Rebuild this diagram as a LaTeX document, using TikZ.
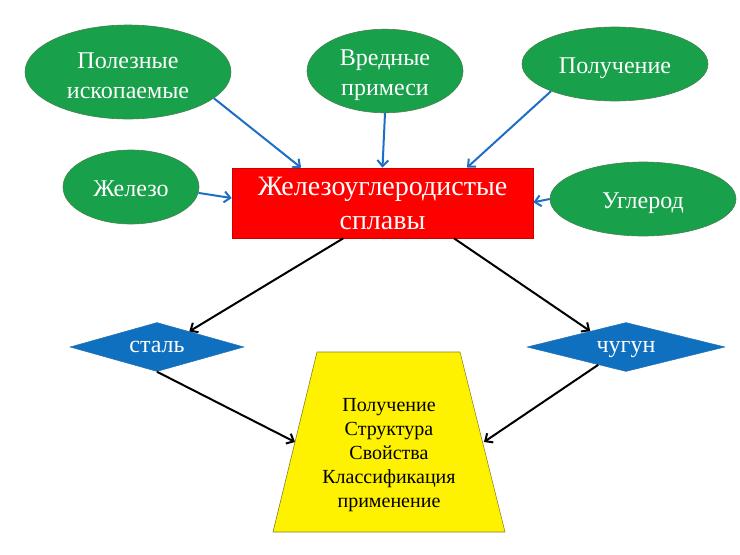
\documentclass[tikz,border=0pt]{standalone}
\usepackage{fontspec}
\setmainfont{Liberation Serif}
\usetikzlibrary{shapes.geometric,arrows.meta,calc}
\definecolor{ellgreen}{RGB}{24,160,74}
\definecolor{ellborder}{RGB}{70,130,80}
\definecolor{diablue}{RGB}{16,112,192}
\definecolor{arrblue}{RGB}{30,110,200}
\definecolor{trapedge}{RGB}{130,130,40}
\newcommand{\tallstrut}{\rule{0pt}{24pt}}
\tikzset{
  ell/.style={ellipse, fill=ellgreen, draw=ellborder, line width=0.6pt, inner sep=0pt,
    text=white, align=center, font=\fontsize{24}{30}\selectfont},
  ellone/.style={ell, text height=19pt, text depth=0pt},
  dia/.style={diamond, fill=diablue, draw=diablue!80!gray, line width=0.5pt, inner sep=0pt, aspect=3.5,
    text=white, font=\fontsize{24}{28}\selectfont, minimum height=49pt, text height=10pt, text depth=0pt},
  bluearr/.style={draw=arrblue, line width=2pt, -{Straight Barb[length=6pt,width=11pt]}},
  blackarr/.style={draw=black, line width=2pt, -{Straight Barb[length=6pt,width=11pt]}},
}
\begin{document}
\begin{tikzpicture}[x=1pt,y=-1pt]
\useasboundingbox (0,0) rectangle (740,555);
\node[ell, minimum width=206pt, minimum height=94pt] (pi) at (128,72) {\tallstrut Полезные\\ископаемые};
\node[ell, minimum width=156pt, minimum height=76pt] (vp) at (385,71) {\tallstrut Вредные\\примеси};
\node[ellone, minimum width=186pt, minimum height=74pt] (pol) at (615,64) {Получение};
\node[ellone, minimum width=136pt, minimum height=74pt] (fe) at (131,187) {Железо};
\node[ellone, minimum width=186pt, minimum height=74pt] (c) at (643,199) {Углерод};
\node[rectangle, fill=red, draw=red!80!black, line width=0.6pt, minimum width=301pt, minimum height=70pt,
  inner sep=0pt, text=white, align=center, font=\fontsize{28}{34}\selectfont] (rect) at (382.5,203) {Железоуглеродистые\\сплавы};
\node[dia, minimum width=174pt] (st) at (157,347) {сталь};
\node[dia, minimum width=198pt] (cu) at (626,347) {чугун};
\fill[yellow, draw=trapedge, line width=0.6pt] (317,352) -- (460,352) -- (505,532) -- (273,532) -- cycle;
\node[align=center, font=\fontsize{20}{24}\selectfont, inner sep=0pt] (tr) at (389,455)
  {Получение\\Структура\\Свойства\\Классификация\\применение};
\coordinate (trL) at (295,442);
\coordinate (trR) at (484,442);
\draw[bluearr] (pi.-17) -- ($(rect.north west)!0.23!(rect.north east)$);
\draw[bluearr] (vp.south) -- ($(rect.north west)!0.50!(rect.north east)$);
\draw[bluearr] (pol.203) -- ($(rect.north west)!0.78!(rect.north east)$);
\draw[bluearr] (fe.-5) -- ($(rect.north west)!0.43!(rect.south west)$);
\draw[bluearr] (c.west) -- ($(rect.north east)!0.49!(rect.south east)$);
\draw[blackarr] ($(rect.south west)!0.37!(rect.south east)$) -- ($(st.north)!0.37!(st.east)$);
\draw[blackarr] ($(rect.south west)!0.737!(rect.south east)$) -- ($(cu.north)!0.36!(cu.west)$);
\draw[blackarr] (st.south) -- (trL);
\draw[blackarr] ($(cu.south)!0.28!(cu.west)$) -- (trR);
\end{tikzpicture}
\end{document}
